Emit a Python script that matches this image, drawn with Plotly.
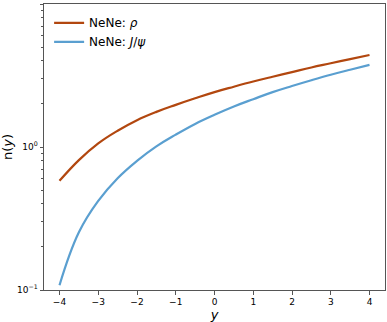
import plotly.graph_objects as go

# rapidity grid and read-off yields
rapidity = [-4.0, -3.5, -3.0, -2.5, -2.0, -1.5, -1.0, -0.5, 0.0, 0.5, 1.0, 1.5, 2.0, 2.5, 3.0, 3.5, 4.0]
n_rho = [0.58, 0.81, 1.06, 1.30, 1.54, 1.76, 1.97, 2.19, 2.42, 2.64, 2.87, 3.10, 3.34, 3.60, 3.85, 4.12, 4.40]
n_jpsi = [0.108, 0.253, 0.42, 0.605, 0.80, 1.01, 1.22, 1.45, 1.68, 1.92, 2.16, 2.42, 2.67, 2.93, 3.20, 3.47, 3.75]

x_ticks = [-4, -3, -2, -1, 0, 1, 2, 3, 4]
y_major = [0.1, 1, 10]
y_major_text = ["10<sup>−1</sup>", "10<sup>0</sup>", "10<sup>1</sup>"]
y_minor = [0.2, 0.3, 0.4, 0.5, 0.6, 0.7, 0.8, 0.9, 2, 3, 4, 5, 6, 7, 8, 9]

fig = go.Figure()
fig.add_trace(go.Scatter(x=rapidity, y=n_rho, mode='lines', name='NeNe: <i>ρ</i>',
                         line=dict(color='#b2470f', width=2.2, shape='spline', smoothing=1.2)))
fig.add_trace(go.Scatter(x=rapidity, y=n_jpsi, mode='lines', name='NeNe: <i>J</i>/<i>ψ</i>',
                         line=dict(color='#5a9fd0', width=2.2, shape='spline', smoothing=1.2)))

axis_style = dict(showline=True, linecolor='#555', linewidth=1, mirror=True,
                  ticks='outside', ticklen=3.5, tickwidth=1, tickcolor='#555',
                  showgrid=False, zeroline=False, automargin=False,
                  tickfont=dict(family='DejaVu Sans', size=9, color='black'))

fig.update_layout(
    width=387, height=322,
    margin=dict(l=44, r=2, t=4, b=32),
    plot_bgcolor='white', paper_bgcolor='white',
    font=dict(family='DejaVu Sans', color='black'),
    legend=dict(x=0.015, y=0.985, xanchor='left', yanchor='top',
                bgcolor='rgba(0,0,0,0)', font=dict(size=12), itemwidth=30,
                tracegroupgap=0),
    xaxis=dict(range=[-4.4, 4.4], tickvals=x_ticks,
               ticktext=[str(t).replace('-', '−') for t in x_ticks],
               title=dict(text='<i>y</i>', font=dict(size=13), standoff=2), **axis_style),
    yaxis=dict(type='log', range=[-1, 1], tickvals=y_major, ticktext=y_major_text,
               minor=dict(tickvals=y_minor, ticks='outside', ticklen=2, tickcolor='#555'),
               title=dict(text='n(<i>y</i>)', font=dict(size=13), standoff=4), **axis_style),
)

fig.write_html("out.html", config={'displayModeBar': False},
               post_script="document.body.style.margin='0';")
